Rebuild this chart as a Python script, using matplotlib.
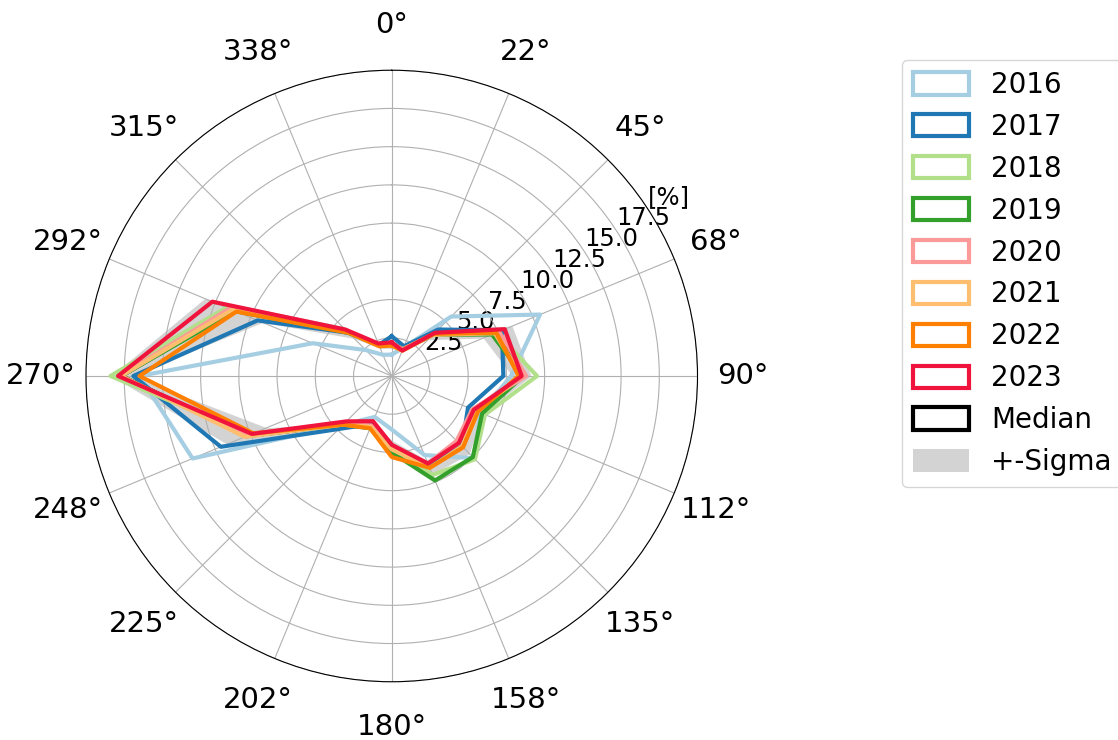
import numpy as np
import matplotlib
matplotlib.use('Agg')
import matplotlib.pyplot as plt
from matplotlib.patches import Patch

# wind direction sectors (deg, clockwise from north)
directions = [0, 22.5, 45, 67.5, 90, 112.5, 135, 157.5, 180,
              202.5, 225, 247.5, 270, 292.5, 315, 337.5]
years = ['2016', '2017', '2018', '2019', '2020', '2021', '2022', '2023']

# frequency per sector [%]
y2016 = [1.4, 2.0, 5.5, 10.5, 7.8, 6.3, 7.6, 5.6, 3.5, 2.9, 4.5, 14.1, 16.5, 5.6, 2.4, 1.5]
y2017 = [2.6, 2.1, 4.3, 7.8, 7.3, 5.4, 6.5, 6.4, 4.6, 3.4, 4.9, 12.1, 16.9, 9.5, 4.0, 2.2]
y2018 = [2.1, 1.9, 3.8, 7.4, 9.5, 6.6, 7.7, 7.0, 4.8, 3.6, 4.4, 10.0, 18.4, 11.7, 4.1, 2.2]
y2019 = [2.1, 1.9, 3.8, 7.1, 8.6, 6.4, 7.5, 7.4, 5.0, 3.7, 4.5, 10.3, 17.7, 11.1, 4.0, 2.2]
y2020 = [2.1, 1.9, 3.9, 7.6, 8.8, 5.7, 6.0, 6.2, 4.6, 3.5, 4.4, 10.2, 17.8, 11.5, 4.2, 2.2]
y2021 = [2.0, 1.8, 3.8, 7.3, 8.5, 6.0, 6.5, 6.5, 4.8, 3.6, 4.5, 10.4, 17.7, 11.3, 4.1, 2.2]
y2022 = [2.0, 1.8, 3.9, 7.4, 8.3, 6.1, 6.6, 6.5, 5.3, 3.7, 4.5, 9.8, 16.5, 11.0, 4.0, 2.1]
y2023 = [2.2, 1.8, 4.0, 8.0, 8.5, 5.8, 6.2, 6.2, 4.5, 3.2, 4.2, 9.9, 17.9, 12.7, 4.3, 2.3]

colors = ['#a6cee3', '#1f78b4', '#b2df8a', '#33a02c', '#fb9a99', '#fdbf6f', '#ff7f00', '#f0143c']

data = np.array([y2016, y2017, y2018, y2019, y2020, y2021, y2022, y2023])
median = np.median(data, axis=0)
sigma = np.std(data, axis=0)

theta = np.deg2rad(directions + [directions[0]])
def close(v):
    return np.append(v, v[0])

fig = plt.figure(figsize=(11.18, 7.4), dpi=100)
ax = fig.add_axes([0.0769, 0.0784, 0.547, 0.827], projection='polar')
ax.set_theta_zero_location('N')
ax.set_theta_direction(-1)

ax.fill_between(theta, close(median - sigma), close(median + sigma), color='lightgray', lw=0)
ax.plot(theta, close(median), color='black', lw=3)
for yr, vals, c in zip(years, data, colors):
    ax.plot(theta, close(vals), color=c, lw=3)

ax.set_ylim(0, 20)
rt = [2.5, 5.0, 7.5, 10.0, 12.5, 15.0, 17.5, 20.0]
ax.set_yticks(rt)
ax.set_yticklabels(['%.1f' % r for r in rt[:-1]] + ['[%]'], fontsize=17.5)
ax.set_rlabel_position(57)
ax.set_xticks(np.deg2rad(directions))
ax.set_xticklabels(['%d°' % round(d) for d in directions], fontsize=21)
ax.tick_params(axis='x', pad=22)

handles = [Patch(facecolor='white', edgecolor=c, lw=3) for c in colors]
handles.append(Patch(facecolor='white', edgecolor='black', lw=3))
handles.append(Patch(facecolor='lightgray', edgecolor='none'))
fig.legend(handles, years + ['Median', '+-Sigma'], loc='upper left',
           bbox_to_anchor=(0.807, 0.919), borderaxespad=0, fontsize=20,
           handlelength=2.0, handleheight=0.85)

fig.savefig('out.png', dpi=100)
